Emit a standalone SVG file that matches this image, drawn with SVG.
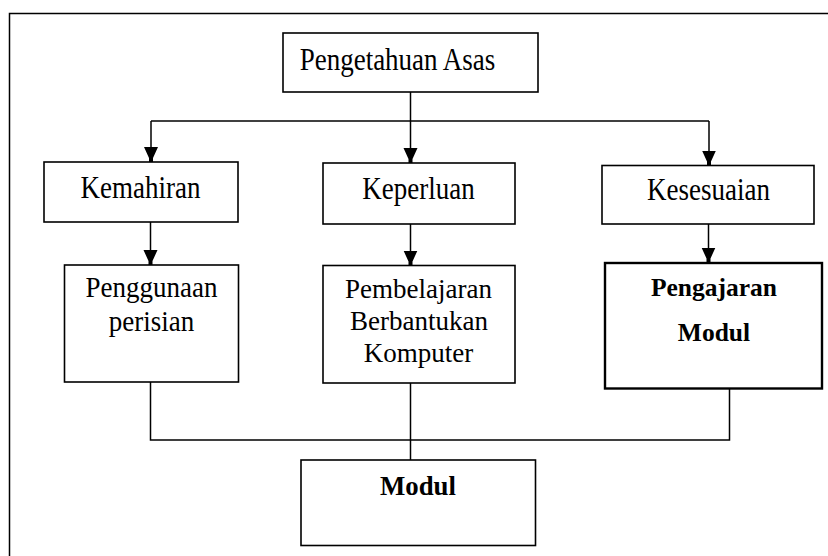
<svg xmlns="http://www.w3.org/2000/svg" width="828" height="556" viewBox="0 0 828 556">
<defs>
<style>
.box{fill:#fff;stroke:#000;stroke-width:1.6}
.thick{stroke-width:2.4}
.ln{fill:none;stroke:#000;stroke-width:1.5}
.t{font-family:"Liberation Serif","Times New Roman",serif;font-size:27px;fill:#000;text-anchor:middle}
.b{font-family:"Liberation Serif","Times New Roman",serif;font-size:25.5px;font-weight:bold;fill:#000;text-anchor:middle}
</style>
<marker id="ah" markerUnits="userSpaceOnUse" markerWidth="16" markerHeight="16" viewBox="0 -8 16 16" refX="15" refY="0" orient="auto">
<path d="M0,-7 L0,7 L11,2 L15,2 L15,-2 L11,-2 Z" fill="#000"/>
</marker>
</defs>
<rect width="828" height="556" fill="#fff"/>
<path class="ln" d="M9.5,556 V13.5 H828"/>
<g id="connectors">
<path class="ln" d="M410.5,92 V163" marker-end="url(#ah)"/>
<path class="ln" d="M151,121 H709"/>
<path class="ln" d="M151,121 V162" marker-end="url(#ah)"/>
<path class="ln" d="M709,121 V165.5" marker-end="url(#ah)"/>
<path class="ln" d="M150.5,222 V265" marker-end="url(#ah)"/>
<path class="ln" d="M410.5,224 V265.5" marker-end="url(#ah)"/>
<path class="ln" d="M708.5,224 V262.5" marker-end="url(#ah)"/>
<path class="ln" d="M150.5,382 V440 H729.5 V388"/>
<path class="ln" d="M410.5,383 V460"/>
</g>
<g id="n-pengetahuan">
<rect class="box" x="283" y="33" width="255" height="59"/>
<text class="t" transform="translate(397.5,70) scale(1,1.14)">Pengetahuan Asas</text>
</g>
<g id="n-kemahiran">
<rect class="box" x="44" y="162" width="194" height="60"/>
<text class="t" transform="translate(140.5,198) scale(1,1.14)">Kemahiran</text>
</g>
<g id="n-keperluan">
<rect class="box" x="323" y="163" width="192" height="61"/>
<text class="t" transform="translate(418.5,199) scale(1,1.14)">Keperluan</text>
</g>
<g id="n-kesesuaian">
<rect class="box" x="602" y="165.5" width="212" height="58.5"/>
<text class="t" transform="translate(708.5,200) scale(1,1.14)">Kesesuaian</text>
</g>
<g id="n-penggunaan">
<rect class="box" x="64.5" y="265" width="174" height="117"/>
<text class="t" transform="translate(151.5,297) scale(1,1.08)">Penggunaan</text>
<text class="t" transform="translate(151.5,331) scale(1,1.08)">perisian</text>
</g>
<g id="n-pembelajaran">
<rect class="box" x="323" y="265.5" width="192" height="117.5"/>
<text class="t" x="418.5" y="298">Pembelajaran</text>
<text class="t" x="419" y="330">Berbantukan</text>
<text class="t" x="418.5" y="362">Komputer</text>
</g>
<g id="n-pengajaran">
<rect class="box thick" x="605" y="263" width="217" height="125.5"/>
<text class="b" x="714" y="296">Pengajaran</text>
<text class="b" x="714" y="341">Modul</text>
</g>
<g id="n-modul">
<rect class="box" x="301" y="460" width="234.5" height="85.5"/>
<text class="b" x="418" y="495" style="font-size:26.8px">Modul</text>
</g>
</svg>
